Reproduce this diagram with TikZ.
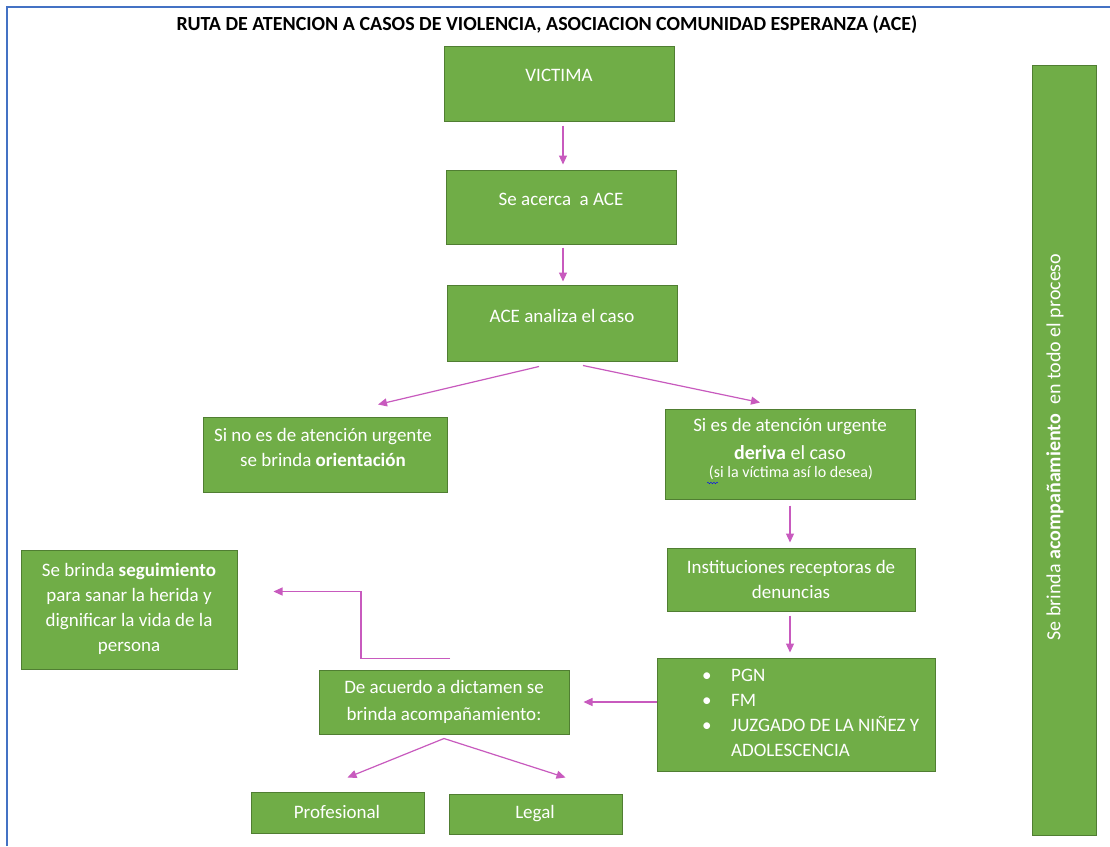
\documentclass[tikz,border=0pt]{standalone}
\usepackage{fontspec}
\setmainfont{Carlito}
\usetikzlibrary{arrows.meta,fit,decorations.pathmorphing}
\definecolor{gfill}{HTML}{70AD47}
\definecolor{gline}{HTML}{507E32}
\definecolor{pk}{RGB}{200,90,190}
\definecolor{framec}{HTML}{4472C4}
\tikzset{
  gbox/.style={draw=gline, fill=gfill, line width=1pt, inner sep=0pt},
  txt/.style={text=white, font=\fontsize{19}{25}\selectfont, align=center, inner sep=0pt},
  con/.style={draw=pk, line width=1.2pt, -{Triangle[length=9pt,width=8pt]}},
}
\begin{document}
\begin{tikzpicture}[x=1pt,y=-1pt]
\useasboundingbox (0,0) rectangle (1110,846);
\fill[white] (0,0) rectangle (1110,846);
% frame
\draw[framec, line width=2pt] (7,846) -- (7,7) -- (1110,7);
% title
\node[inner sep=0pt, font=\fontsize{20}{24}\selectfont\bfseries] (title) at (547,25)
  {RUTA DE ATENCION A CASOS DE VIOLENCIA, ASOCIACION COMUNIDAD ESPERANZA (ACE)};
% boxes
\node[gbox, fit={(444,46) (674,121)}] (v) {};
\node[gbox, fit={(446,170) (676,244)}] (sa) {};
\node[gbox, fit={(447,285) (677,361)}] (ace) {};
\node[gbox, fit={(203,417) (447,492)}] (no) {};
\node[gbox, fit={(665,409) (915,499)}] (si) {};
\node[gbox, fit={(667,548) (915,611)}] (inst) {};
\node[gbox, fit={(657,658) (935,771)}] (pgn) {};
\node[gbox, fit={(319,670) (569,734)}] (dict) {};
\node[gbox, fit={(21,550) (237,669)}] (seg) {};
\node[gbox, fit={(251,792) (424,833)}] (prof) {};
\node[gbox, fit={(449,794) (622,834)}] (legal) {};
\node[gbox, fit={(1032,65) (1096,835)}] (side) {};
% texts
\node[txt] (tv) at (559,75) {VICTIMA};
\node[txt] (tsa) at (561,199) {Se acerca\ \ a ACE};
\node[txt] (tace) at (562,316) {ACE analiza el caso};
\node[txt] (tno) at (323,447.5) {Si no es de atención urgente\\se brinda \textbf{orientación}};
\node[txt] (tsi1) at (790,427) {Si es de atención urgente};
\node[txt, font=\fontsize{20}{25}\selectfont] (tsi2) at (790,453) {\textbf{deriva} el caso};
\node[txt, font=\fontsize{16}{19}\selectfont] (tsi3) at (791,473) {(si la víctima así lo desea)};
\draw[blue, decorate, decoration={snake, amplitude=0.8pt, segment length=3pt}] (707,483) -- (718,483);
\node[txt] (tinst) at (791,579) {Instituciones receptoras de\\denuncias};
\node[txt, align=left, anchor=west] (tpgn) at (702,713)
  {\makebox[29pt][l]{•}PGN\\\makebox[29pt][l]{•}FM\\\makebox[29pt][l]{•}JUZGADO DE LA NIÑEZ Y\\\hspace*{29pt}ADOLESCENCIA};
\node[txt, font=\fontsize{19}{27}\selectfont] (tdict) at (444,702) {De acuerdo a dictamen se\\brinda acompañamiento:};
\node[txt] (tseg) at (129,608.5) {Se brinda \textbf{seguimiento}\\para sanar la herida y\\dignificar la vida de la\\persona};
\node[txt] (tprof) at (337,812) {Profesional};
\node[txt] (tlegal) at (535,814) {Legal};
\node[txt, rotate=90, font=\fontsize{20}{24}\selectfont] (tside) at (1055,447) {Se brinda \textbf{acompañamiento}\ \ en todo el proceso};
% connectors
\draw[con] ([xshift=4pt,yshift=-4pt]v.south) -- ([xshift=2pt,yshift=5pt]sa.north);
\draw[con] ([xshift=2pt,yshift=-3pt]sa.south) -- ([xshift=1pt,yshift=3pt]ace.north);
\draw[con] ([xshift=-23pt,yshift=-5pt]ace.south) -- ([xshift=53pt,yshift=12pt]no.north);
\draw[con] ([xshift=21pt,yshift=-4pt]ace.south) -- ([xshift=-30pt,yshift=6pt]si.north);
\draw[con] ([yshift=-6pt]si.south) -- ([xshift=-1pt,yshift=5pt]inst.north);
\draw[con] ([xshift=-1pt,yshift=-4pt]inst.south) -- ([xshift=-6pt,yshift=5pt]pgn.north);
\draw[con] (pgn.west |- dict.east) -- ([xshift=14pt]dict.east);
\draw[con] ([xshift=6pt,yshift=11pt]dict.north) -- ++(-89,0) |- ([xshift=36pt,yshift=18pt]seg.east);
\draw[con] ([yshift=-4pt]dict.south) -- ([xshift=10pt,yshift=14pt]prof.north);
\draw[con] ([yshift=-4pt]dict.south) -- ([xshift=30pt,yshift=16pt]legal.north);
\end{tikzpicture}
\end{document}
